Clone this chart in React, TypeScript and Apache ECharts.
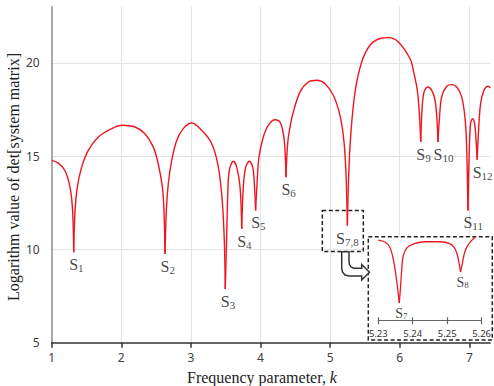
import React, { useEffect, useRef } from 'react';
import * as echarts from 'echarts';

// Main curve: frequency parameter k vs. logarithm of det[system matrix]
const curveK = [
  1.0, 1.095, 1.19, 1.263, 1.3, 1.316, 1.335, 1.368, 1.43, 1.526, 1.67, 1.862, 2.015, 2.197, 2.34, 2.46, 2.53, 2.59,
  2.613, 2.628, 2.647, 2.675, 2.724, 2.796, 2.89, 3.01, 3.155, 3.3, 3.394, 3.45, 3.48, 3.494, 3.515, 3.528, 3.552,
  3.61, 3.658, 3.706, 3.73, 3.753, 3.787, 3.84, 3.888, 3.911, 3.93, 3.95, 3.978, 4.04, 4.112, 4.208, 4.28, 4.328,
  4.352, 4.366, 4.39, 4.424, 4.471, 4.567, 4.687, 4.807, 4.927, 5.046, 5.142, 5.2, 5.229, 5.248, 5.267, 5.296, 5.358,
  5.454, 5.573, 5.717, 5.836, 5.98, 6.148, 6.195, 6.253, 6.282, 6.302, 6.32, 6.349, 6.402, 6.46, 6.508, 6.536, 6.55,
  6.569, 6.603, 6.675, 6.747, 6.82, 6.89, 6.937, 6.96, 6.98, 6.998, 7.018, 7.047, 7.076, 7.094, 7.113, 7.133, 7.162,
  7.21, 7.27, 7.3,
];
const curveLogDet = [
  14.77, 14.62, 14.23, 13.34, 12.09, 9.85, 12.09, 13.34, 14.41, 15.31, 16.02, 16.47, 16.65, 16.56, 16.2, 15.48, 14.59,
  13.34, 12.09, 9.76, 12.09, 13.52, 14.77, 15.84, 16.47, 16.77, 16.38, 15.66, 14.41, 12.62, 10.47, 7.88, 10.84, 12.8,
  14.23, 14.72, 14.41, 13.34, 11.1, 13.34, 14.41, 14.72, 14.41, 13.52, 12.09, 13.52, 14.95, 16.02, 16.65, 16.95, 16.82,
  16.2, 15.31, 13.87, 15.66, 16.56, 17.36, 18.43, 18.97, 19.06, 18.88, 18.26, 17.18, 15.75, 13.96, 11.28, 13.96, 16.11,
  18.43, 20.04, 20.94, 21.3, 21.35, 21.12, 20.23, 19.6, 18.52, 17.27, 15.75, 17.45, 18.43, 18.7, 18.52, 17.99, 16.92,
  15.75, 16.92, 18.17, 18.74, 18.83, 18.7, 18.17, 17.09, 15.66, 12.09, 15.13, 16.74, 17.0, 16.74, 16.02, 14.8, 16.38,
  17.81, 18.52, 18.74, 18.65,
];
// Subscripts of the S labels, in order of the curve's dips
const dipSubscripts = ['1', '2', '3', '4', '5', '6', '7,8', '9', '10', '11', '12'];

// Inset (zoom of the S7,8 dip)
const insetK = [
  5.23, 5.2319, 5.2333, 5.2342, 5.2349, 5.2355, 5.2361, 5.2365, 5.2368, 5.2372, 5.2383, 5.2403, 5.2435, 5.2482,
  5.2506, 5.252, 5.2528, 5.2534, 5.2539, 5.2545, 5.2551, 5.2559, 5.257, 5.2582,
];
const insetLogDet = [
  12.88, 12.81, 12.63, 12.29, 11.81, 11.28, 10.63, 11.28, 11.81, 12.29, 12.6, 12.74, 12.82, 12.82, 12.76, 12.63, 12.42,
  12.1, 11.74, 12.1, 12.45, 12.67, 12.85, 13.0,
];
const insetSubscripts = ['7', '8'];

// Region of the main chart that the inset magnifies
const zoomBoxK = [4.888, 5.477];
const zoomBoxLogDet = [12.09, 9.89];

const SERIF = '"Liberation Serif", "Times New Roman", serif';
const SANS = '"Noto Sans", Arial, sans-serif';
const RED = '#f0141e';

function minimaIdx(ys: number[]) {
  const out: number[] = [];
  for (let i = 1; i < ys.length - 1; i++) {
    if (ys[i] < ys[i - 1] && ys[i] < ys[i + 1]) out.push(i);
  }
  return out;
}

// Split a curve at its dips so every arc is smoothed but each dip stays a sharp cusp
function arcs(xs: number[], ys: number[]) {
  const cuts = [0, ...minimaIdx(ys), ys.length - 1];
  const segs: number[][][] = [];
  for (let c = 0; c < cuts.length - 1; c++) {
    const seg: number[][] = [];
    for (let i = cuts[c]; i <= cuts[c + 1]; i++) seg.push([xs[i], ys[i]]);
    segs.push(seg);
  }
  return segs;
}

export default function App() {
  const ref = useRef<HTMLDivElement>(null);
  useEffect(() => {
    const chart = echarts.init(ref.current!, null, { renderer: 'svg' });
    const mainArcs = arcs(curveK, curveLogDet);
    const insetArcs = arcs(insetK, insetLogDet);
    const dipData = minimaIdx(curveLogDet).map((i, j) => {
      const sub = dipSubscripts[j];
      const item: any = { value: [curveK[i], curveLogDet[i], sub] };
      if (sub.length > 2) item.label = { align: 'center', offset: [0, 0] };
      return item;
    });
    const insetDipData = minimaIdx(insetLogDet).map((i, j) => [insetK[i], insetLogDet[i], insetSubscripts[j]]);

    const labelRich = (big: number, small: number, pad: number, lh: number) => ({
      s: { fontFamily: SERIF, fontSize: big, color: '#111', lineHeight: lh },
      n: { fontFamily: SERIF, fontSize: small, color: '#111', lineHeight: small, padding: [pad, 0, 0, 0], verticalAlign: 'top' },
    });

    const mainSeries = mainArcs.map((seg, idx) => {
      const s: any = {
        type: 'line', xAxisIndex: 0, yAxisIndex: 0, data: seg, symbol: 'none', smooth: 0.35, z: 2,
        lineStyle: { color: RED, width: 1.4 },
      };
      if (idx === 0) {
        s.markArea = {
          silent: true,
          label: { show: false },
          itemStyle: { color: 'rgba(0,0,0,0)', borderColor: '#222', borderWidth: 1.5, borderType: [4, 2.5] },
          data: [[{ xAxis: zoomBoxK[0], yAxis: zoomBoxLogDet[0] }, { xAxis: zoomBoxK[1], yAxis: zoomBoxLogDet[1] }]],
        };
      }
      return s;
    });
    const insetSeries = insetArcs.map((seg) => ({
      type: 'line', xAxisIndex: 1, yAxisIndex: 1, data: seg, symbol: 'none', smooth: 0.35, z: 12, clip: false,
      lineStyle: { color: RED, width: 1.3 },
    }));

    chart.setOption({
      animation: false,
      backgroundColor: '#fff',
      grid: [
        { left: 51.7, right: 3.8, top: 6.8, bottom: 43.3 },
        { left: 378.3, right: 8.3, top: 236.7, bottom: 65.3 },
      ],
      xAxis: [
        {
          type: 'value', gridIndex: 0, min: 1, max: 7.3, interval: 1,
          axisLine: { show: true, onZero: false, lineStyle: { color: '#333', width: 1.5 } },
          axisTick: { show: true, length: 5, lineStyle: { color: '#333', width: 1.5 } },
          axisLabel: { showMaxLabel: false, margin: 9, fontFamily: SANS, fontSize: 12, color: '#404040' },
          splitLine: { show: true, showMinLine: false, showMaxLine: false, lineStyle: { color: '#e2e2e2', width: 1 } },
        },
        {
          type: 'value', gridIndex: 1, min: 5.23, max: 5.26, interval: 0.01, z: 11,
          axisLine: { show: true, onZero: false, lineStyle: { color: '#666', width: 1.2 } },
          axisTick: { show: true, inside: true, length: 3.5, lineStyle: { color: '#666', width: 1.2 } },
          axisLabel: { formatter: (v: number) => v.toFixed(2), margin: 8, fontFamily: SANS, fontSize: 9.5, color: '#333' },
          splitLine: { show: false },
        },
        {
          type: 'value', gridIndex: 1, min: 5.23, max: 5.26, interval: 0.01, z: 11, position: 'bottom',
          axisLine: { show: false, onZero: false },
          axisTick: { show: true, inside: false, length: 3.5, lineStyle: { color: '#666', width: 1.2 } },
          axisLabel: { show: false },
          splitLine: { show: false },
        },
      ],
      yAxis: [
        {
          type: 'value', gridIndex: 0, min: 5, max: 23, interval: 5,
          axisLine: { show: true, lineStyle: { color: '#8c8c8c', width: 1.5 } },
          axisTick: { show: false },
          axisLabel: { showMaxLabel: false, margin: 12, fontFamily: SANS, fontSize: 12, color: '#404040' },
          splitLine: { show: true, showMinLine: false, showMaxLine: false, lineStyle: { color: '#e2e2e2', width: 1 } },
        },
        { type: 'value', gridIndex: 1, min: 10, max: 13, show: false },
      ],
      series: [
        ...mainSeries,
        {
          type: 'scatter', xAxisIndex: 0, yAxisIndex: 0, data: dipData, symbolSize: 1, z: 3,
          itemStyle: { color: 'rgba(0,0,0,0)' },
          label: {
            show: true, position: 'bottom', distance: 3, align: 'left', offset: [-4.5, 0], color: '#111',
            formatter: (p: any) => `{s|S}{n|${p.value[2]}}`,
            rich: labelRich(16, 11, 7, 18),
          },
        },
        ...insetSeries,
        {
          type: 'scatter', xAxisIndex: 1, yAxisIndex: 1, data: insetDipData, symbolSize: 1, z: 13,
          itemStyle: { color: 'rgba(0,0,0,0)' },
          label: {
            show: true, position: 'bottom', distance: 2, align: 'left', offset: [-4, 0], color: '#111',
            formatter: (p: any) => `{s|S}{n|${p.value[2]}}`,
            rich: labelRich(14, 9, 6, 16),
          },
        },
      ],
      graphic: [
        {
          type: 'rect', z: 10,
          shape: { x: 368.3, y: 236.7, width: 124, height: 103.3 },
          style: { fill: '#fff', stroke: '#222', lineWidth: 1.5, lineDash: [4, 2.5] },
        },
        {
          type: 'polygon', z: 10,
          shape: {
            points: [
              [341.7, 251.7], [341.7, 268], [342.5, 272], [345, 275], [349, 276], [361.7, 276], [361.7, 280],
              [369.5, 272.2], [361.7, 264.5], [361.7, 268.3], [354, 268.3], [351, 267], [349.3, 264], [349, 261],
              [349, 251.7],
            ],
          },
          style: { fill: '#fff', stroke: '#333', lineWidth: 1.5 },
        },
        {
          type: 'text', z: 10, x: 13, y: 177, rotation: Math.PI / 2,
          style: {
            text: 'Logarithm value of det[system matrix]', fontFamily: SERIF, fontSize: 16, fill: '#222',
            align: 'center', verticalAlign: 'middle',
          },
        },
        {
          type: 'text', z: 10, x: 262, y: 377,
          style: {
            text: 'Frequency parameter, {i|k}', fontFamily: SERIF, fontSize: 16, fill: '#222',
            align: 'center', verticalAlign: 'middle',
            rich: { i: { fontFamily: SERIF, fontSize: 16, fontStyle: 'italic', fill: '#222' } },
          },
        },
      ],
    });
    return () => chart.dispose();
  }, []);
  return (
    <div
      ref={ref}
      style={{ position: 'fixed', left: 0, top: 0, width: 494, height: 386, background: '#fff' }}
    />
  );
}
